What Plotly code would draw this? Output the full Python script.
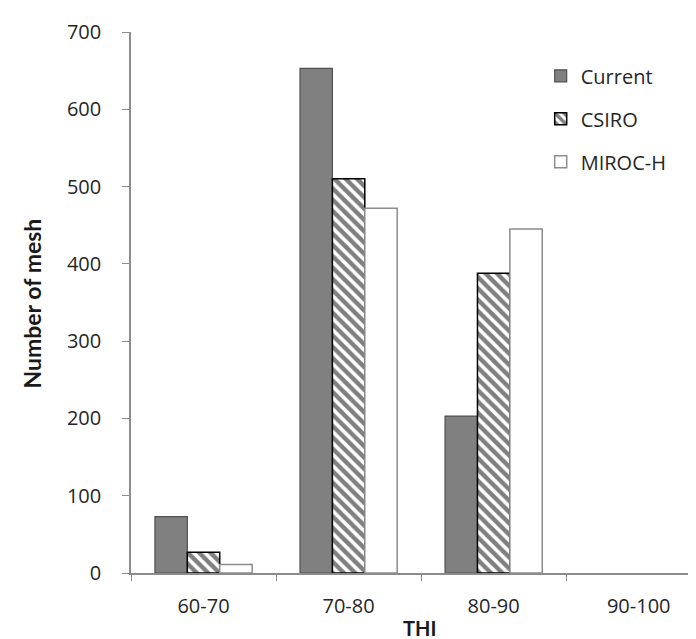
import plotly.graph_objects as go

categories = ["60-70", "70-80", "80-90", "90-100"]
current = [73, 653, 203, 0]
csiro = [27, 510, 388, 0]
miroc_h = [11, 472, 445, 0]
y_ticks = [0, 100, 200, 300, 400, 500, 600, 700]


def outline(values, w):
    return [w if v > 0 else 0 for v in values]


fig = go.Figure()
fig.add_trace(go.Bar(
    x=categories, y=current, name="Current", legendgroup="a",
    marker=dict(color="#808080", line=dict(color="#505050", width=outline(current, 1.2))),
))
fig.add_trace(go.Bar(
    x=categories, y=csiro, name="CSIRO", legendgroup="b",
    marker=dict(color="white", line=dict(color="black", width=outline(csiro, 1.5)),
                pattern=dict(shape="\\", fgcolor="black", bgcolor="white",
                             size=8, solidity=0.55, fillmode="overlay")),
))
fig.add_trace(go.Bar(
    x=categories, y=miroc_h, name="MIROC-H", legendgroup="c",
    marker=dict(color="white", line=dict(color="#8c8c8c", width=outline(miroc_h, 1.5))),
))

fig.update_layout(
    width=696, height=639,
    margin=dict(l=123, r=0, t=24, b=74),
    plot_bgcolor="white", paper_bgcolor="white",
    barmode="group", bargap=0.33, bargroupgap=0,
    font=dict(family="Open Sans", size=20, color="#262626"),
    showlegend=True,
    legend=dict(x=0.715, y=0.955, xanchor="left", yanchor="top",
                font=dict(family="Open Sans", size=20, color="#262626"),
                tracegroupgap=14, bgcolor="rgba(0,0,0,0)"),
    xaxis=dict(
        range=[-0.5, 3.45], showgrid=False, showline=True,
        linecolor="#8c8c8c", linewidth=1.5, ticks="outside", tickson="boundaries",
        ticklen=6, tickcolor="#8c8c8c", ticklabelstandoff=14,
    ),
    yaxis=dict(
        range=[0, 700], tickvals=y_ticks, showgrid=False, showline=True, zeroline=False,
        linecolor="#8c8c8c", linewidth=1.5, ticks="outside", ticklen=7, tickcolor="#8c8c8c",
        ticklabelstandoff=17,
    ),
)
fig.add_annotation(
    text="<b>Number of mesh</b>", textangle=-90, xref="paper", yref="paper",
    x=-0.173, y=0.498, xanchor="center", yanchor="middle", showarrow=False,
    font=dict(family="Lato", size=23, color="#1a1a1a"),
)
fig.add_annotation(
    text="<b>THI</b>", xref="paper", yref="paper",
    x=0.504, y=-0.102, xanchor="center", yanchor="middle", showarrow=False,
    font=dict(family="Lato", size=20, color="#1a1a1a"), borderpad=0,
)
fig.write_html("out.html")
